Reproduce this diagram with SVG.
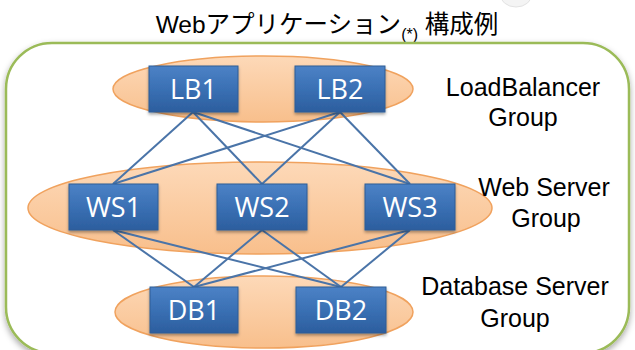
<svg xmlns="http://www.w3.org/2000/svg" width="635" height="350" viewBox="0 0 635 350">
  <defs>
    <linearGradient id="boxFill" x1="0" y1="0" x2="0" y2="1">
      <stop offset="0" stop-color="#4c82c6"/>
      <stop offset="0.5" stop-color="#3a70b4"/>
      <stop offset="1" stop-color="#2c5e9e"/>
    </linearGradient>
    <linearGradient id="groupFill" x1="0" y1="0" x2="0" y2="1">
      <stop offset="0" stop-color="#fdd9b8"/>
      <stop offset="1" stop-color="#f8bf8c"/>
    </linearGradient>
    <filter id="frameShadow" x="-5%" y="-5%" width="110%" height="115%">
      <feDropShadow dx="0" dy="3" stdDeviation="3" flood-color="#000" flood-opacity="0.35"/>
    </filter>
    <filter id="boxShadow" x="-10%" y="-10%" width="120%" height="140%">
      <feDropShadow dx="0" dy="2" stdDeviation="1.5" flood-color="#000" flood-opacity="0.35"/>
    </filter>
  </defs>
  <style>
    .title { font-family: "Liberation Sans", "Noto Sans CJK JP", sans-serif; font-size: 24.5px; fill: #000; }
    .label { font-family: "Liberation Sans", Arial, sans-serif; font-size: 25px; fill: #000; text-anchor: middle; }
    .group { fill: url(#groupFill); stroke: #f0a25e; stroke-width: 1.5; }
    .node rect { fill: url(#boxFill); stroke: #2f5d96; stroke-width: 1; filter: url(#boxShadow); }
    .node text { font-family: "Open Sans", "Noto Sans", sans-serif; font-size: 27px; fill: #fff; text-anchor: middle; }
    .link { stroke: #4a74a8; stroke-width: 2; fill: none; }
  </style>

  <rect width="635" height="350" fill="#fff"/>

  <!-- faint partial shape at the top edge -->
  <ellipse cx="516" cy="-6" rx="16" ry="13" fill="#f4f4f4" stroke="#e2e2e2" stroke-width="1"/>

  <!-- title -->
  <text class="title" x="327" y="33" text-anchor="middle">Webアプリケーション<tspan font-size="16" dy="7">(*)</tspan><tspan dy="-7"> 構成例</tspan></text>

  <!-- outer frame -->
  <rect x="6" y="43" width="623" height="310" rx="46" ry="46" fill="#fff" stroke="#9bbb59" stroke-width="2.5" filter="url(#frameShadow)"/>

  <!-- tier groups -->
  <g id="tiers">
    <ellipse id="lb-group" class="group" cx="263" cy="89" rx="150" ry="33"/>
    <ellipse id="ws-group" class="group" cx="260" cy="208" rx="232" ry="46"/>
    <ellipse id="db-group" class="group" cx="264" cy="312" rx="149" ry="36"/>
  </g>

  <!-- tier labels -->
  <text class="label" x="523" y="96">LoadBalancer</text>
  <text class="label" x="523" y="126">Group</text>
  <text class="label" x="544" y="196">Web Server</text>
  <text class="label" x="546" y="227">Group</text>
  <text class="label" x="515" y="295">Database Server</text>
  <text class="label" x="515" y="327">Group</text>

  <!-- connectors -->
  <g id="connectors">
    <line class="link" x1="193" y1="112" x2="113" y2="184"/>
    <line class="link" x1="193" y1="112" x2="262" y2="184"/>
    <line class="link" x1="193" y1="112" x2="410" y2="184"/>
    <line class="link" x1="340" y1="112" x2="113" y2="184"/>
    <line class="link" x1="340" y1="112" x2="262" y2="184"/>
    <line class="link" x1="340" y1="112" x2="410" y2="184"/>
    <line class="link" x1="113" y1="230" x2="194" y2="287"/>
    <line class="link" x1="113" y1="230" x2="341" y2="287"/>
    <line class="link" x1="262" y1="230" x2="194" y2="287"/>
    <line class="link" x1="262" y1="230" x2="341" y2="287"/>
    <line class="link" x1="410" y1="230" x2="194" y2="287"/>
    <line class="link" x1="410" y1="230" x2="341" y2="287"/>
  </g>

  <!-- nodes -->
  <g id="LB1" class="node"><rect x="149" y="66" width="89" height="46"/><text x="193.5" y="99">LB1</text></g>
  <g id="LB2" class="node"><rect x="295" y="66" width="90" height="46"/><text x="340" y="99">LB2</text></g>
  <g id="WS1" class="node"><rect x="69" y="184" width="89" height="46"/><text x="113.5" y="217">WS1</text></g>
  <g id="WS2" class="node"><rect x="217" y="184" width="90" height="46"/><text x="262" y="217">WS2</text></g>
  <g id="WS3" class="node"><rect x="365" y="184" width="90" height="46"/><text x="410" y="217">WS3</text></g>
  <g id="DB1" class="node"><rect x="150" y="287" width="88" height="46"/><text x="194" y="320">DB1</text></g>
  <g id="DB2" class="node"><rect x="296" y="287" width="90" height="46"/><text x="341" y="320">DB2</text></g>
</svg>
